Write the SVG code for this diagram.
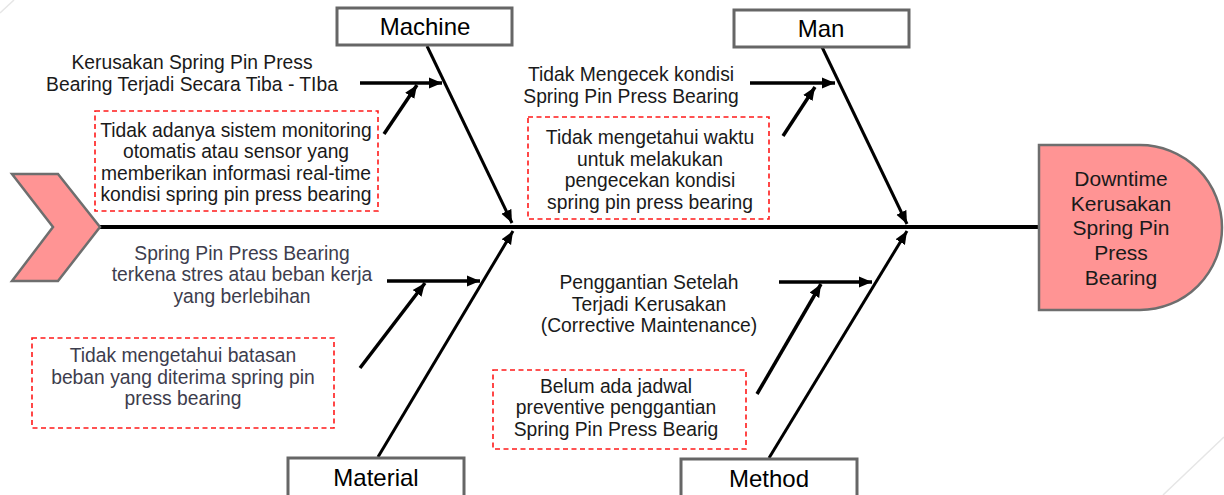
<svg xmlns="http://www.w3.org/2000/svg" width="1224" height="495" viewBox="0 0 1224 495">
<defs>
<marker id="ah" markerUnits="userSpaceOnUse" markerWidth="14" markerHeight="12" refX="13" refY="6" orient="auto">
<path d="M0,0.5 L13,6 L0,11.5 Z" fill="#000"/>
</marker>
<style>
text{font-family:"Liberation Sans",Arial,sans-serif;text-anchor:middle}
.c{font-size:19.3px;fill:#1a1a1a}
.g{font-size:19.3px;fill:#3d3d4d}
.cat{font-size:24px;fill:#000}
.hd{font-size:21px;fill:#1a1a1a}
.box{fill:#fff;stroke:#666;stroke-width:3}
.dash{fill:#fff;stroke:#ff1a1a;stroke-width:1.6;stroke-dasharray:5,3.5}
.bone{stroke:#000;stroke-width:3;fill:none;marker-end:url(#ah)}
.sub{stroke:#000;stroke-width:3.5;fill:none;marker-end:url(#ah)}
</style>
</defs>
<rect width="1224" height="495" fill="#fff"/>
<line x1="0" y1="13" x2="14" y2="0" stroke="#e6e6e6" stroke-width="1.5"/>
<line x1="1163" y1="495" x2="1224" y2="437" stroke="#e6e6e6" stroke-width="1.5"/>

<g id="connectors">
<line x1="100" y1="227" x2="1041" y2="227" stroke="#000" stroke-width="4"/>
<line class="bone" x1="427" y1="46" x2="512" y2="223"/>
<line class="bone" x1="822" y1="47" x2="907" y2="224"/>
<line class="bone" x1="378" y1="457" x2="513" y2="231"/>
<line class="bone" x1="769" y1="458" x2="907" y2="231"/>
<line class="sub" x1="360" y1="83" x2="442" y2="83"/>
<line class="sub" x1="384" y1="134" x2="417" y2="85"/>
<line class="sub" x1="750" y1="83" x2="835" y2="83"/>
<line class="sub" x1="783" y1="136" x2="815" y2="87"/>
<line class="sub" x1="387" y1="281" x2="480" y2="281"/>
<line class="sub" x1="360" y1="368" x2="425" y2="283"/>
<line class="sub" x1="779" y1="282" x2="872" y2="282"/>
<line class="sub" x1="757" y1="394" x2="821" y2="284"/>
</g>

<g id="tail">
<polygon points="12,174 58,174 100,227 58,281 12,281 53,227" fill="#ff9494" stroke="#6e6e6e" stroke-width="2.5" stroke-linejoin="miter"/>
</g>

<g id="head">
<path d="M1039,145 L1140,145 A82,82.5 0 0 1 1140,310 L1039,310 Z" fill="#ff9494" stroke="#6e6e6e" stroke-width="2.5"/>
<text class="hd" x="1121" y="186">Downtime</text>
<text class="hd" x="1121" y="211">Kerusakan</text>
<text class="hd" x="1121" y="235">Spring Pin</text>
<text class="hd" x="1121" y="260">Press</text>
<text class="hd" x="1121" y="285">Bearing</text>
</g>

<g id="machine">
<rect class="box" x="337" y="8" width="175" height="37"/>
<text class="cat" x="425" y="35">Machine</text>
</g>
<g id="man">
<rect class="box" x="734" y="10" width="175" height="37"/>
<text class="cat" x="821" y="37">Man</text>
</g>
<g id="material">
<rect class="box" x="288" y="458" width="176" height="40"/>
<text class="cat" x="376" y="486">Material</text>
</g>
<g id="method">
<rect class="box" x="681" y="459" width="176" height="40"/>
<text class="cat" x="769" y="487">Method</text>
</g>

<g id="machine-cause">
<text class="c" x="192" y="69">Kerusakan Spring Pin Press</text>
<text class="c" x="192" y="91">Bearing Terjadi Secara Tiba - TIba</text>
</g>
<g id="machine-root">
<rect class="dash" x="95" y="111" width="283" height="100"/>
<text class="c" x="236" y="137">Tidak adanya sistem monitoring</text>
<text class="c" x="236" y="158">otomatis atau sensor yang</text>
<text class="c" x="236" y="180">memberikan informasi real-time</text>
<text class="c" x="236" y="201">kondisi spring pin press bearing</text>
</g>

<g id="man-cause">
<text class="c" x="631" y="81">Tidak Mengecek kondisi</text>
<text class="c" x="631" y="103">Spring Pin Press Bearing</text>
</g>
<g id="man-root">
<rect class="dash" x="528" y="117" width="241" height="102"/>
<text class="c" x="650" y="144">Tidak mengetahui waktu</text>
<text class="c" x="650" y="166">untuk melakukan</text>
<text class="c" x="650" y="187">pengecekan kondisi</text>
<text class="c" x="650" y="209">spring pin press bearing</text>
</g>

<g id="material-cause">
<text class="g" x="242" y="260">Spring Pin Press Bearing</text>
<text class="g" x="242" y="281">terkena stres atau beban kerja</text>
<text class="g" x="242" y="303">yang berlebihan</text>
</g>
<g id="material-root">
<rect class="dash" x="32" y="338" width="302" height="90"/>
<text class="g" x="183" y="362">Tidak mengetahui batasan</text>
<text class="g" x="183" y="384">beban yang diterima spring pin</text>
<text class="g" x="183" y="405">press bearing</text>
</g>

<g id="method-cause">
<text class="c" x="649" y="289">Penggantian Setelah</text>
<text class="c" x="649" y="311">Terjadi Kerusakan</text>
<text class="c" x="649" y="332">(Corrective Maintenance)</text>
</g>
<g id="method-root">
<rect class="dash" x="493" y="370" width="253" height="79"/>
<text class="c" x="616" y="393">Belum ada jadwal</text>
<text class="c" x="616" y="414">preventive penggantian</text>
<text class="c" x="616" y="436">Spring Pin Press Bearig</text>
</g>
</svg>
